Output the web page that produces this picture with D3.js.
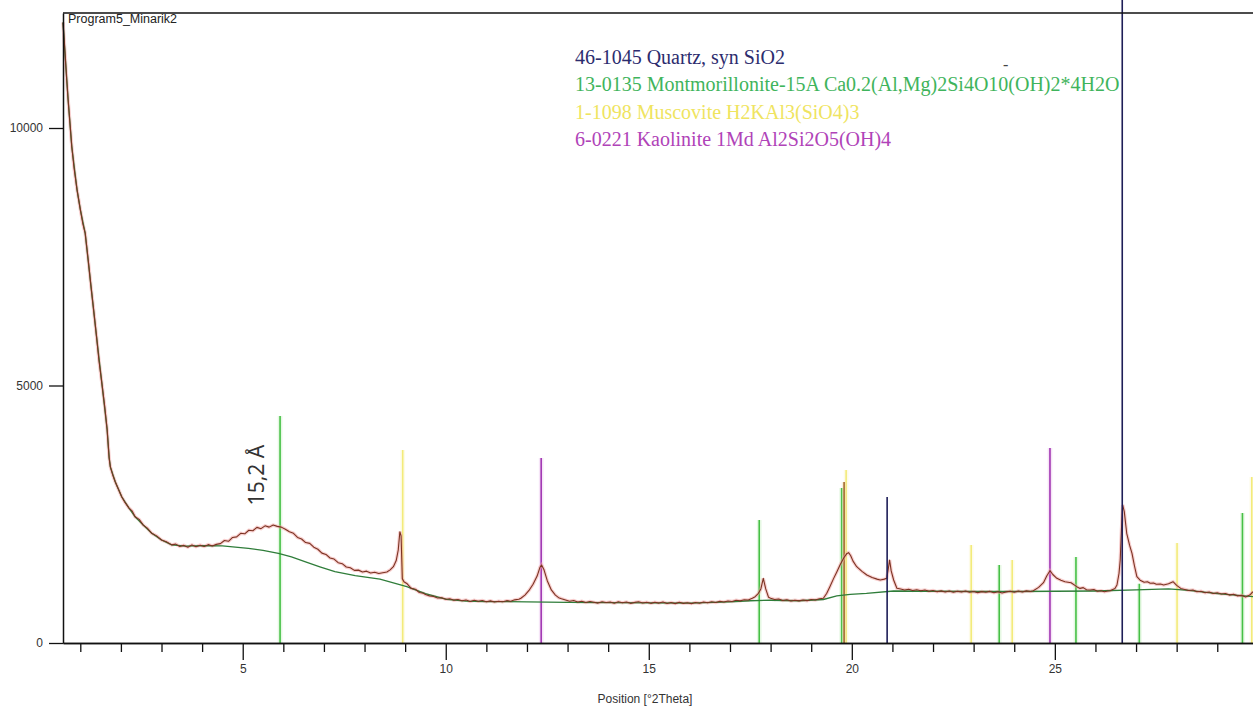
<!DOCTYPE html>
<html><head><meta charset="utf-8">
<script src="https://cdn.jsdelivr.net/npm/d3@7"></script>
<style>
html,body{margin:0;padding:0;background:#fff;}
svg{display:block;}
</style></head>
<body>
<script>
// ---------- data ----------
const chartTitle = "Program5_Minarik2";
const xAxisTitle = "Position [°2Theta]";
const xMajorTicks = [5, 10, 15, 20, 25];
const xMinorTicks = [1,2,3,4,6,7,8,9,11,12,13,14,16,17,18,19,21,22,23,24,26,27,28,29];
const yTicks = [0, 5000, 10000];
const xDomain = [0.574, 29.88];
const yDomain = [0, 12233];

// observed pattern (°2θ, counts)
const obsX = [0.574,0.62,0.66,0.70,0.75,0.79,0.85,0.92,1.00,1.06,1.12,1.20,1.26,1.32,1.40,1.46,1.53,1.60,1.66,1.71,1.74,1.80,1.86,1.92,2.02,2.10,2.20,2.28,2.35,2.45,2.55,2.65,2.76,2.88,3.00,3.12,3.25,3.35,3.45,3.55,3.65,3.75,3.85,3.95,4.05,4.15,4.25,4.35,4.45,4.55,4.65,4.75,4.85,4.95,5.05,5.15,5.25,5.35,5.45,5.55,5.65,5.75,5.85,5.95,6.05,6.15,6.25,6.35,6.45,6.55,6.65,6.75,6.85,6.95,7.05,7.15,7.25,7.35,7.45,7.55,7.65,7.75,7.85,7.95,8.05,8.15,8.25,8.35,8.45,8.55,8.63,8.71,8.78,8.83,8.87,8.90,8.93,8.97,9.05,9.15,9.25,9.35,9.45,
9.5,9.6,9.7,9.8,9.9,10.0,10.1,10.2,10.3,10.4,10.5,10.6,10.7,10.8,10.9,11.0,11.1,11.2,11.3,11.4,11.5,11.6,11.7,11.8,11.85,11.95,12.05,12.15,12.25,12.32,12.36,12.42,12.50,12.60,12.70,12.78,
12.85,12.95,13.05,13.15,13.25,13.35,13.45,13.55,13.65,13.75,13.85,13.95,14.05,14.15,14.25,14.35,14.45,14.55,14.65,14.75,14.85,14.95,15.05,15.15,15.25,15.35,15.45,15.55,15.65,15.75,15.85,15.95,16.05,16.15,16.25,16.35,16.45,16.55,16.65,16.75,16.85,16.95,17.05,17.15,17.25,17.35,17.45,17.55,17.62,17.70,17.76,17.82,17.88,17.95,
18.0,18.1,18.2,18.3,18.4,18.5,18.6,18.7,18.8,18.9,19.0,19.1,19.2,19.3,19.38,19.46,19.55,19.63,19.71,19.80,19.88,19.92,19.97,20.03,20.12,20.25,20.37,20.50,20.62,20.70,20.80,20.86,20.90,20.93,20.97,21.03,21.11,
21.2,21.3,21.4,21.5,21.6,21.7,21.8,21.9,22.0,22.1,22.2,22.3,22.4,22.5,22.6,22.7,22.8,22.9,23.0,23.1,23.2,23.3,23.4,23.5,23.6,23.7,23.8,23.9,24.0,24.1,24.2,24.3,24.4,24.47,24.60,24.72,24.80,24.88,24.95,25.05,25.15,25.25,25.40,25.54,25.62,25.70,25.78,25.87,25.96,26.05,26.14,26.22,26.30,26.36,26.48,26.53,26.58,26.61,26.64,26.67,26.71,26.77,26.84,26.90,26.96,27.02,27.10,27.20,27.28,27.35,27.43,27.50,27.60,27.68,27.80,27.91,28.00,28.10,
28.2,28.3,28.4,28.5,28.6,28.7,28.8,28.9,29.0,29.1,29.2,29.3,29.4,29.5,29.6,29.7,29.8,29.88];
const obsY = [12050,11500,11000,10550,10050,9640,9200,8800,8420,8150,7960,7400,6950,6530,5950,5480,5050,4600,4150,3600,3420,3260,3130,3020,2840,2730,2620,2560,2450,2400,2290,2230,2130,2080,2000,1965,1905,1920,1875,1895,1860,1905,1870,1900,1875,1910,1885,1915,1930,1990,1975,2050,2060,2130,2120,2190,2180,2245,2220,2275,2250,2290,2265,2250,2210,2160,2130,2050,2020,1950,1935,1860,1820,1745,1720,1650,1630,1560,1540,1475,1460,1410,1415,1380,1395,1360,1375,1350,1365,1380,1420,1482,1600,1806,2161,2080,1250,1190,1150,1060,1045,980,965,
940,915,905,875,880,850,860,832,845,820,835,805,830,810,825,800,818,795,812,800,822,810,838,850,870,930,1020,1140,1300,1470,1515,1420,1210,1030,930,880,
860,835,810,825,795,810,785,805,790,775,800,785,795,772,800,780,795,770,788,800,778,792,770,790,775,795,768,785,765,790,770,782,765,785,771,795,780,800,785,808,795,815,805,830,818,840,835,870,900,964,1050,1256,1050,887,
870,845,855,825,840,815,830,818,835,822,845,835,858,868,960,1094,1250,1380,1515,1650,1740,1754,1700,1590,1482,1390,1320,1270,1240,1223,1240,1256,1450,1612,1400,1223,1062,
1050,1030,1045,1020,1035,1015,1030,1005,1020,995,1012,990,1008,985,1005,992,1010,985,1000,978,998,985,1002,975,995,970,992,1005,985,1008,990,1012,1000,1016,1080,1171,1300,1404,1330,1256,1220,1190,1171,1094,1060,1075,1035,1029,1040,1005,1015,995,1010,1016,1060,1126,1350,1612,2200,2680,2550,2130,1900,1742,1500,1287,1220,1180,1190,1159,1165,1140,1145,1126,1150,1190,1120,1060,
1040,1020,1030,995,1005,975,990,960,975,950,960,930,945,915,925,895,930,996];

// fitted background (°2θ, counts)
const bgX = [0.574,0.70,0.79,0.92,1.00,1.12,1.26,1.40,1.53,1.66,1.71,1.74,1.86,2.02,2.20,2.35,2.55,2.76,3.00,3.25,3.60,4.00,4.50,5.14,5.50,5.88,6.20,6.53,6.90,7.27,7.77,8.38,9.04,9.50,10.02,10.50,11.00,12.00,13.00,14.00,15.00,16.00,17.00,17.50,18.00,18.70,19.30,19.63,19.96,20.36,21.03,22.00,23.00,24.00,25.00,26.00,27.00,27.80,28.30,29.00,29.88];
const bgY = [12050,10550,9640,8800,8420,7960,6950,5950,5050,4150,3600,3420,3130,2840,2620,2450,2290,2130,2000,1905,1880,1890,1884,1838,1800,1741,1670,1579,1480,1385,1310,1240,1094,960,848,815,805,800,790,785,780,775,800,820,830,820,845,913,946,965,1010,1005,1000,1000,1005,1010,1030,1050,1020,960,900];

// reference pattern sticks
const quartzPos = [20.87, 26.66];
const quartzInt = [2835, 12600];
const montPos = [5.92, 17.72, 19.75, 23.63, 25.52, 27.08, 29.62];
const montInt = [4408, 2388, 3010, 1515, 1670, 1150, 2524];
const muscPos = [8.94, 19.86, 22.94, 23.95, 28.01, 29.85];
const muscInt = [3748, 3360, 1903, 1612, 1942, 3223];
const kaolPos = [12.35, 24.88];
const kaolInt = [3593, 3787];
const overlapPos = [19.81];
const overlapInt = [3126];

const legendLabels = [
  "46-1045 Quartz, syn SiO2",
  "13-0135 Montmorillonite-15A Ca0.2(Al,Mg)2Si4O10(OH)2*4H2O",
  "1-1098 Muscovite H2KAl3(SiO4)3",
  "6-0221 Kaolinite 1Md Al2Si2O5(OH)4"
];
const legendColors = ["#2c2c6e", "#3fb45c", "#efe460", "#b043b8"];

const annotText = "15,2 Å";
const annotPos = [5.35, 3260];

// ---------- drawing ----------
const W = 1253, H = 712;
const svg = d3.select("body").append("svg").attr("width", W).attr("height", H)
  .style("background", "#fff");

const x = d3.scaleLinear().domain(xDomain).range([63, 1253]);
const y = d3.scaleLinear().domain(yDomain).range([643, 13]);

function sticks(pos, inten, color, w, halo) {
  const g = svg.append("g");
  if (halo) {
    g.selectAll("line.h").data(pos).join("line")
      .attr("x1", d => x(d)).attr("x2", d => x(d))
      .attr("y1", y(0)).attr("y2", (d, i) => y(inten[i]))
      .attr("stroke", halo).attr("stroke-width", w + 3).attr("opacity", 0.35);
  }
  g.selectAll("line.c").data(pos).join("line")
    .attr("x1", d => x(d)).attr("x2", d => x(d))
    .attr("y1", y(0)).attr("y2", (d, i) => y(inten[i]))
    .attr("stroke", color).attr("stroke-width", w);
}
sticks(muscPos, muscInt, "#f3eb7a", 1.6, "#fbf6c0");
sticks(montPos, montInt, "#46c046", 1.6, "#b9ecb0");
sticks(kaolPos, kaolInt, "#a035b2", 1.6, "#e6b4ea");
sticks(overlapPos, overlapInt, "#a2692e", 1.6, "#f1d9a0");

const line = d3.line().x(d => x(d[0])).y(d => y(d[1]));
const bgData = bgX.map((v, i) => [v, bgY[i]]);
const obsData = obsX.map((v, i) => [v, obsY[i]]);

svg.append("path").datum(obsData).attr("d", line)
  .attr("fill", "none").attr("stroke", "#f2a0a0").attr("stroke-width", 3.4).attr("opacity", 0.5);
svg.append("path").datum(bgData).attr("d", line)
  .attr("fill", "none").attr("stroke", "#2f7d3a").attr("stroke-width", 1.3);
svg.append("path").datum(obsData).attr("d", line)
  .attr("fill", "none").attr("stroke", "#7b3322").attr("stroke-width", 1.1)
  .attr("stroke-linejoin", "round");

sticks(quartzPos, quartzInt, "#1e1e58", 1.6, null);

// axes
const fontAxis = "'Liberation Sans', Arial, sans-serif";
const xMinor = d3.axisBottom(x).tickValues(xMinorTicks).tickSize(9).tickSizeOuter(0).tickFormat("");
const xMajor = d3.axisBottom(x).tickValues(xMajorTicks).tickSize(17).tickSizeOuter(0).tickPadding(4);
const gxm = svg.append("g").attr("transform", `translate(0,${y(0)})`).call(xMinor);
const gx = svg.append("g").attr("transform", `translate(0,${y(0)})`).call(xMajor);
[gxm, gx].forEach(g => {
  g.selectAll("line").attr("stroke", "#111").attr("stroke-width", 1.3);
  g.select(".domain").attr("stroke", "#111").attr("stroke-width", 1.5);
});
gx.selectAll("text").attr("font-family", fontAxis).attr("font-size", 12).attr("fill", "#333");

const yAx = d3.axisLeft(y).tickValues(yTicks).tickSize(14).tickSizeOuter(0).tickPadding(6).tickFormat(d3.format("d"));
const gy = svg.append("g").attr("transform", `translate(${x(xDomain[0])},0)`).call(yAx);
gy.selectAll("line").attr("stroke", "#111").attr("stroke-width", 1.3);
gy.select(".domain").attr("stroke", "#111").attr("stroke-width", 1.5);
gy.selectAll("text").attr("font-family", fontAxis).attr("font-size", 12).attr("fill", "#333");

svg.append("line").attr("x1", x(xDomain[0])).attr("x2", x(xDomain[1]))
  .attr("y1", y(yDomain[1])).attr("y2", y(yDomain[1]))
  .attr("stroke", "#111").attr("stroke-width", 1.5);

svg.append("text").attr("x", x(xDomain[0]) + 5).attr("y", 23)
  .attr("font-family", fontAxis).attr("font-size", 12.5).attr("fill", "#222")
  .text(chartTitle);

svg.append("text").attr("x", 645).attr("y", 703).attr("text-anchor", "middle")
  .attr("font-family", fontAxis).attr("font-size", 12).attr("fill", "#333")
  .text(xAxisTitle);

// legend
const lg = svg.append("g").attr("font-family", "'Liberation Serif', 'Times New Roman', serif").attr("font-size", 20);
lg.selectAll("text").data(legendLabels).join("text")
  .attr("x", 575).attr("y", (d, i) => 64 + i * 27.3)
  .attr("fill", (d, i) => legendColors[i])
  .text(d => d);
svg.append("text").attr("x", 1003).attr("y", 70).attr("font-family", "'Liberation Serif', serif")
  .attr("font-size", 16).attr("fill", "#444").text("-");

// annotation
svg.append("text")
  .attr("transform", `translate(${x(annotPos[0])},${y(annotPos[1])}) rotate(-90)`)
  .attr("text-anchor", "middle").attr("dy", "0.35em")
  .attr("font-family", "'Noto Sans', 'Open Sans', sans-serif").attr("font-size", 21).attr("fill", "#333")
  .text(annotText);
</script>
</body></html>
